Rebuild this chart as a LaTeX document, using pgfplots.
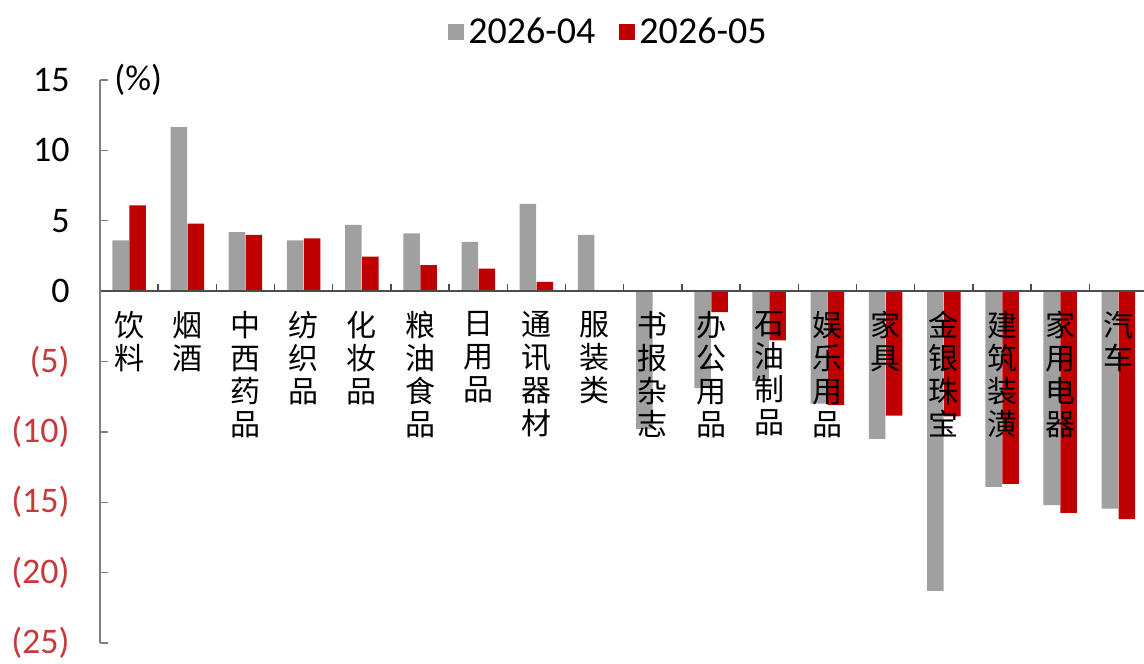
\documentclass[border=0pt]{standalone}
\usepackage{fontspec}
\setmainfont{Carlito}
\newfontfamily\cjk{Noto Sans CJK SC}
\usepackage{pgfplots}
\pgfplotsset{compat=1.18}
\definecolor{barGray}{HTML}{A0A0A0}
\definecolor{barRed}{HTML}{C00000}
\definecolor{negRed}{HTML}{C8383C}

\begin{document}
\begin{tikzpicture}
\useasboundingbox (0,0) rectangle (572pt,331.5pt);
\begin{axis}[
  at={(50pt,10pt)}, anchor=south west,
  scale only axis, width=522pt, height=281.5pt,
  xmin=-0.5, xmax=17.44, ymin=-25, ymax=15,
  axis x line*=middle, axis y line*=left,
  x axis line style={draw=black!70, line width=0.7pt, -},
  y axis line style={draw=black!50, line width=0.7pt, -},
  axis on top, clip=false,
  tick align=inside, major tick length=3.75pt,
  ytick={-25,-20,...,15},
  yticklabels={\textcolor{negRed}{(25)},\textcolor{negRed}{(20)},\textcolor{negRed}{(15)},\textcolor{negRed}{(10)},\textcolor{negRed}{(5)},0,5,10,15},
  y tick style={draw=black!50, line width=0.7pt},
  yticklabel style={font=\fontsize{18}{18}\selectfont, inner sep=0pt, xshift=-15pt},
  xtick={0.5,1.5,...,16.5}, xticklabels={},
  x tick style={draw=black!70, line width=0.7pt},
  extra x ticks={0,1,...,17},
  extra x tick labels={{饮\\料},{烟\\酒},{中\\西\\药\\品},{纺\\织\\品},{化\\妆\\品},{粮\\油\\食\\品},{日\\用\\品},{通\\讯\\器\\材},{服\\装\\类},{书\\报\\杂\\志},{办\\公\\用\\品},{石\\油\\制\\品},{娱\\乐\\用\\品},{家\\具},{金\\银\\珠\\宝},{建\\筑\\装\\潢},{家\\用\\电\\器},{汽\\车}},
  extra x tick style={major tick length=0pt,
    tick label style={font=\cjk\fontsize{15}{16.5}\selectfont, align=center, anchor=north, inner sep=0pt, yshift=-10pt}},
  legend columns=2,
  legend image code/.code={\fill (0pt,-4pt) rectangle (8pt,4pt);},
  legend style={draw=none, fill=none, at={(0.488,1.085)}, anchor=center,
    font=\fontsize{19}{19}\selectfont,
    /tikz/every even column/.append style={column sep=10pt}},
]
\addplot[ybar, bar width=8.25pt, bar shift=-4.25pt, fill=barGray, draw=none] coordinates {
(0,3.6) (1,11.65) (2,4.2) (3,3.6) (4,4.7) (5,4.1) (6,3.5) (7,6.2) (8,4.0)
(9,-9.8) (10,-6.9) (11,-6.4) (12,-8.0) (13,-10.5) (14,-21.3) (15,-13.9) (16,-15.2) (17,-15.45)
};
\addlegendentry{2026-04}
\addplot[ybar, bar width=8.25pt, bar shift=4.25pt, fill=barRed, draw=none] coordinates {
(0,6.1) (1,4.8) (2,4.0) (3,3.75) (4,2.45) (5,1.85) (6,1.6) (7,0.65)
(10,-1.5) (11,-3.5) (12,-8.1) (13,-8.85) (14,-8.9) (15,-13.7) (16,-15.75) (17,-16.2)
};
\addlegendentry{2026-05}
\node[anchor=west, inner sep=0pt, font=\fontsize{18}{18}\selectfont] at (rel axis cs:0,1) [xshift=7pt] {(\%)};
\end{axis}
\end{tikzpicture}
\end{document}
